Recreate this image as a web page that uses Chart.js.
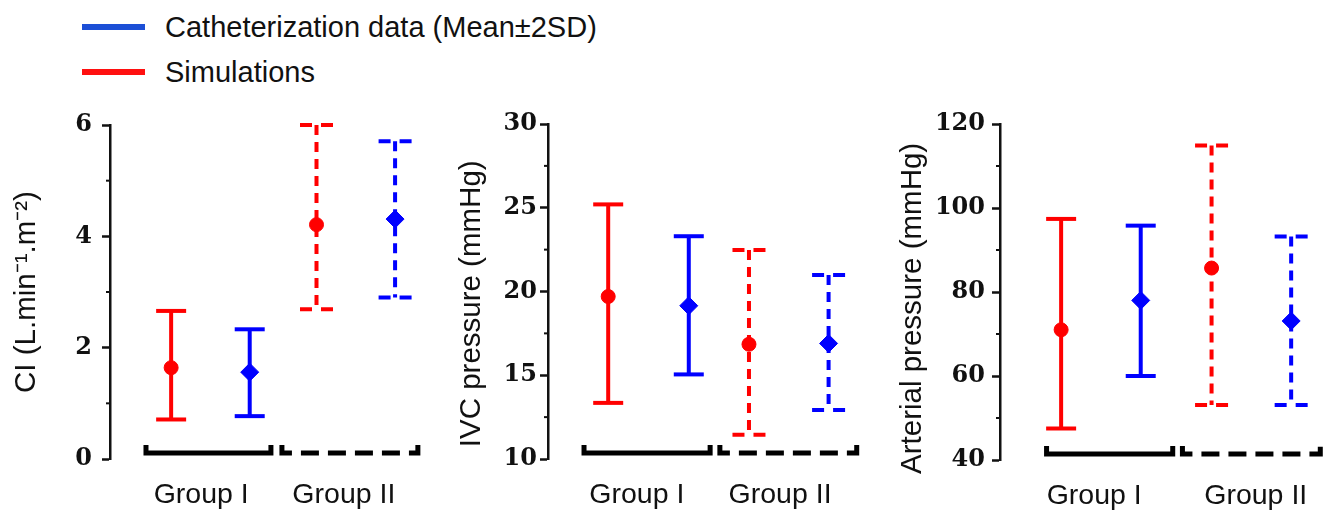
<!DOCTYPE html>
<html>
<head>
<meta charset="utf-8">
<script src="https://cdn.jsdelivr.net/npm/chart.js@4.4.0/dist/chart.umd.min.js"></script>
<style>
  html, body { margin: 0; padding: 0; background: #fff; }
  #page { position: relative; width: 1340px; height: 510px; overflow: hidden; }
  canvas { position: absolute; top: 0; }
  #legend { position: absolute; left: 82px; top: 0; font-family: 'Liberation Sans', Arial, sans-serif; font-size: 29px; color: #111; }
  .row { position: absolute; left: 0; height: 34px; white-space: nowrap; }
  .swatch { position: absolute; left: 0; top: 14px; width: 63px; height: 6px; }
  .txt { position: absolute; left: 83px; top: 0; line-height: 34px; }
</style>
</head>
<body>
<div id="page">
  <div id="legend"></div>
  <canvas id="c1" width="445" height="510" style="left:0px"></canvas>
  <canvas id="c2" width="445" height="510" style="left:445px"></canvas>
  <canvas id="c3" width="450" height="510" style="left:890px"></canvas>
</div>
<script>
// categories / legend
const groups = ['Group I', 'Group II'];
const legendNames = ['Catheterization data (Mean±2SD)', 'Simulations'];

// CI panel
const ciTicks = [0, 2, 4, 6];
const ciSimMean = [1.64, 4.21];
const ciSimLow = [0.71, 2.69];
const ciSimHigh = [2.66, 6.0];
const ciCathMean = [1.56, 4.31];
const ciCathLow = [0.77, 2.90];
const ciCathHigh = [2.33, 5.71];

// IVC pressure panel
const ivcTicks = [10, 15, 20, 25, 30];
const ivcSimMean = [19.7, 16.85];
const ivcSimLow = [13.35, 11.45];
const ivcSimHigh = [25.2, 22.48];
const ivcCathMean = [19.15, 16.9];
const ivcCathLow = [15.05, 12.93];
const ivcCathHigh = [23.3, 20.98];

// Arterial pressure panel
const artTicks = [40, 60, 80, 100, 120];
const artSimMean = [71.0, 85.7];
const artSimLow = [47.5, 53.1];
const artSimHigh = [97.4, 114.9];
const artCathMean = [78.0, 73.1];
const artCathLow = [60.0, 53.1];
const artCathHigh = [95.8, 93.2];

const RED = '#ff0000';
const BLUE = '#0000ff';

// legende (html)
const legendColors = ['#1c4fd6', '#ff1010'];
const legendEl = document.getElementById('legend');
legendNames.forEach((name, i) => {
  const row = document.createElement('div');
  row.className = 'row';
  row.style.top = (10 + i * 45) + 'px';
  row.innerHTML = '<div class="swatch" style="background:' + legendColors[i] + '"></div><div class="txt"></div>';
  row.querySelector('.txt').textContent = name;
  legendEl.appendChild(row);
});

// garis error bar, kurung grup, tick minor
const errorBars = {
  id: 'errorBars',
  beforeDatasetsDraw(chart) {
    const ctx = chart.ctx;
    const y = chart.scales.y;
    chart.data.datasets.forEach((ds, di) => {
      const meta = chart.getDatasetMeta(di);
      meta.data.forEach((pt, i) => {
        const yHi = y.getPixelForValue(ds.high[i]);
        const yLo = y.getPixelForValue(ds.low[i]);
        const dashed = i === 1;
        ctx.save();
        ctx.strokeStyle = ds.borderColor;
        ctx.lineWidth = 4;
        ctx.setLineDash(dashed ? [10, 7] : []);
        ctx.beginPath();
        ctx.moveTo(pt.x, yHi);
        ctx.lineTo(pt.x, yLo);
        ctx.stroke();
        const w = dashed ? 33 : 30;
        ctx.setLineDash(dashed ? [12, 9] : []);
        [yHi, yLo].forEach(yy => {
          ctx.beginPath();
          ctx.moveTo(pt.x - w / 2, yy);
          ctx.lineTo(pt.x + w / 2, yy);
          ctx.stroke();
        });
        ctx.restore();
      });
    });
  },
  afterDraw(chart, args, opts) {
    const ctx = chart.ctx;
    const x = chart.scales.x;
    const y = chart.scales.y;
    const bottom = chart.chartArea.bottom;
    // kurung Group I (utuh) dan Group II (putus-putus)
    opts.brackets.forEach((b, i) => {
      const x0 = x.getPixelForValue(b[0]);
      const x1 = x.getPixelForValue(b[1]);
      ctx.save();
      ctx.strokeStyle = '#000';
      ctx.lineWidth = 5;
      ctx.lineJoin = 'miter';
      ctx.setLineDash(i === 1 ? [18, 9] : []);
      ctx.beginPath();
      ctx.moveTo(x0, bottom - 14);
      ctx.lineTo(x0, bottom - 6);
      ctx.lineTo(x1, bottom - 6);
      ctx.lineTo(x1, bottom - 14);
      ctx.stroke();
      ctx.restore();
    });
    // tick minor
    const left = chart.chartArea.left;
    ctx.save();
    ctx.strokeStyle = '#111';
    ctx.lineWidth = 2;
    y.ticks.forEach(t => {
      if (opts.majors.includes(t.value)) return;
      const py = y.getPixelForValue(t.value);
      ctx.beginPath();
      ctx.moveTo(left - 4, py);
      ctx.lineTo(left, py);
      ctx.stroke();
    });
    ctx.restore();
  }
};

// trailing spaces nudge the rotated titles down like in the figure
const panels = [
  { id: 'c1', title: 'CI (L.min⁻¹.m⁻²)', majors: ciTicks,
    sim: [ciSimMean, ciSimLow, ciSimHigh], cath: [ciCathMean, ciCathLow, ciCathHigh],
    padLeft: 6, padTop: 125, axisX: 110, tickPad: 10, xH: 51,
    xMin: 0.222, xMax: 4.358, slots: [1, 2, 2.85, 3.85],
    brackets: [[0.68, 2.27], [2.41, 4.14]], labelX: [1.383, 3.198] },
  { id: 'c2', title: 'IVC pressure (mmHg)   ', majors: ivcTicks,
    sim: [ivcSimMean, ivcSimLow, ivcSimHigh], cath: [ivcCathMean, ivcCathLow, ivcCathHigh],
    padLeft: 6, padTop: 124, axisX: 103, tickPad: 3, xH: 51,
    xMin: 0.253, xMax: 4.373, slots: [1, 2, 2.747, 3.735],
    brackets: [[0.70, 2.265], [2.386, 4.084]], labelX: [1.355, 3.133] },
  { id: 'c3', title: 'Arterial pressure (mmHg)    ', majors: artTicks,
    sim: [artSimMean, artSimLow, artSimHigh], cath: [artCathMean, artCathLow, artCathHigh],
    padLeft: 2, padTop: 124, axisX: 110, tickPad: 7, xH: 50,
    xMin: 0.232, xMax: 4.378, slots: [1, 2, 2.89, 3.89],
    brackets: [[0.817, 2.402], [2.524, 4.256]], labelX: [1.415, 3.445] }
];

panels.forEach(p => {
  const majors = p.majors;
  new Chart(document.getElementById(p.id), {
    type: 'scatter',
    data: {
      datasets: [
        {
          label: legendNames[1],
          data: [{ x: p.slots[0], y: p.sim[0][0] }, { x: p.slots[2], y: p.sim[0][1] }],
          low: p.sim[1], high: p.sim[2],
          borderColor: RED, backgroundColor: RED,
          pointStyle: 'circle', pointRadius: 7, borderWidth: 1, clip: false
        },
        {
          label: legendNames[0],
          data: [{ x: p.slots[1], y: p.cath[0][0] }, { x: p.slots[3], y: p.cath[0][1] }],
          low: p.cath[1], high: p.cath[2],
          borderColor: BLUE, backgroundColor: BLUE,
          pointStyle: 'rectRot', pointRadius: 9, borderWidth: 1, clip: false
        }
      ]
    },
    options: {
      responsive: false,
      devicePixelRatio: 1,
      animation: false,
      layout: { padding: { top: p.padTop, left: p.padLeft, right: 0, bottom: 0 } },
      plugins: {
        legend: { display: false },
        tooltip: { enabled: false },
        errorBars: { brackets: p.brackets, majors: majors }
      },
      scales: {
        x: {
          type: 'linear',
          min: p.xMin,
          max: p.xMax,
          afterBuildTicks: s => { s.ticks = p.labelX.map(v => ({ value: v })); },
          ticks: {
            callback: (v, i) => groups[i],
            font: { family: 'Liberation Sans', size: 28.5 },
            color: '#111',
            padding: 19,
            autoSkip: false,
            maxRotation: 0
          },
          grid: { display: false, drawTicks: false },
          border: { display: false },
          afterFit: s => { s.height = p.xH; }
        },
        y: {
          min: majors[0],
          max: majors[majors.length - 1],
          afterBuildTicks: s => {
            const v = [];
            majors.forEach((m, i) => {
              v.push({ value: m });
              if (i < majors.length - 1) v.push({ value: (m + majors[i + 1]) / 2 });
            });
            s.ticks = v;
          },
          ticks: {
            callback: val => majors.includes(val) ? String(val) : '',
            font: { family: 'DejaVu Serif', weight: 'bold', size: 24 },
            color: '#111',
            padding: p.tickPad,
            autoSkip: false
          },
          grid: {
            drawOnChartArea: false,
            drawTicks: true,
            tickLength: 8,
            tickWidth: 2.5,
            tickColor: c => majors.includes(c.tick.value) ? '#111' : 'rgba(0,0,0,0)'
          },
          border: { display: true, color: '#111', width: 2.5 },
          title: {
            display: true,
            text: p.title,
            font: { family: 'Liberation Sans', size: 29.5 },
            color: '#111',
            padding: { top: 3, bottom: 3 }
          },
          afterFit: s => { s.width = p.axisX - p.padLeft; }
        }
      }
    },
    plugins: [errorBars]
  });
});
</script>
</body>
</html>
